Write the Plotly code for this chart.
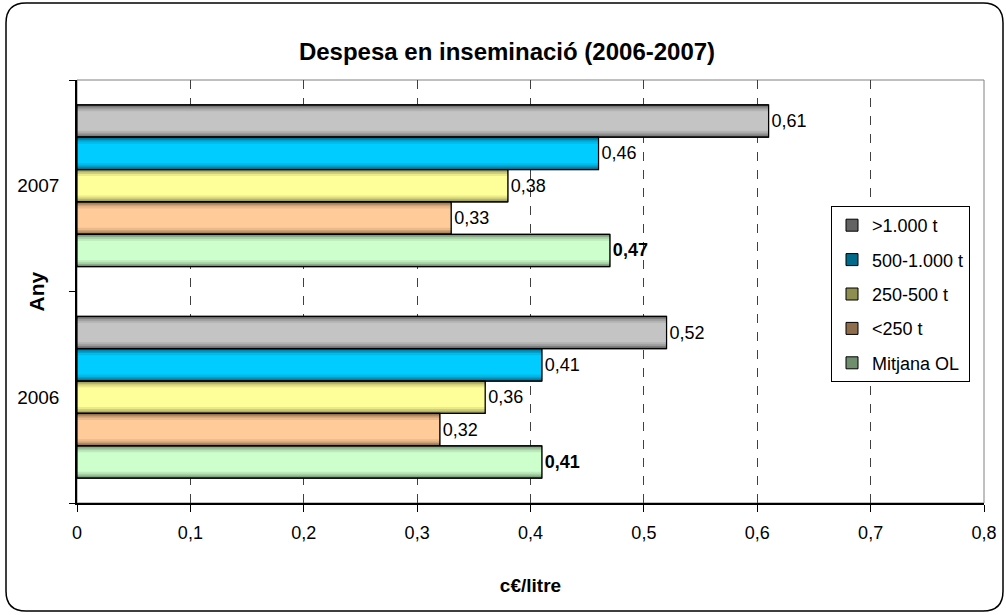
import plotly.graph_objects as go

# ---- data ----
years = ["2006", "2007"]
series_names = [">1.000 t", "500-1.000 t", "250-500 t", "<250 t", "Mitjana OL"]
val_gt1000 = [0.52, 0.61]
val_500_1000 = [0.41, 0.46]
val_250_500 = [0.36, 0.38]
val_lt250 = [0.32, 0.33]
val_mitjana = [0.41, 0.47]
x_ticks = [0, 0.1, 0.2, 0.3, 0.4, 0.5, 0.6, 0.7, 0.8]
x_ticklabels = ["0", "0,1", "0,2", "0,3", "0,4", "0,5", "0,6", "0,7", "0,8"]

values = [val_gt1000, val_500_1000, val_250_500, val_lt250, val_mitjana]
# (light centre colour, dark edge colour) per series
colors = [
    ("#C4C4C4", "#3A3A3A"),
    ("#00CCFF", "#004058"),
    ("#FFFF99", "#5E5E30"),
    ("#FFCC99", "#5E442C"),
    ("#CCFFCC", "#465E46"),
]

FONT = "Arial, Liberation Sans, sans-serif"
W, H = 1006, 615
ML, MR, MT, MB = 77, 22, 80, 112
PW, PH = W - ML - MR, H - MT - MB


def blend(c1, c2, t):
    a = [int(c1[i:i + 2], 16) for i in (1, 3, 5)]
    b = [int(c2[i:i + 2], 16) for i in (1, 3, 5)]
    return "#" + "".join(f"{round(a[i] + (b[i] - a[i]) * t):02x}" for i in range(3))


def label(v):
    return f"{v:.2f}".replace(".", ",")


bar_w = 0.153
n = len(series_names)
start = -bar_w * n / 2
# fake the cylinder gradient: stacked bars, narrower and lighter towards the centre
layers = [(1.0, 0.3), (0.92, 0.5), (0.83, 0.7), (0.73, 0.87), (0.6, 1.0)]

fig = go.Figure()
for i, name in enumerate(series_names):
    k = n - 1 - i  # first series sits at the top of each group
    light, dark = colors[i]
    centre = start + bar_w * (k + 0.5)
    for j, (frac, t) in enumerate(layers):
        w = bar_w * frac
        first = j == 0
        fig.add_trace(go.Bar(
            y=years,
            x=values[i],
            orientation="h",
            name=name,
            width=w,
            offset=centre - w / 2,
            marker=dict(color=blend(dark, light, t),
                        line=dict(color="black", width=1 if first else 0)),
            text=[label(v) for v in values[i]] if first else None,
            textposition="outside" if first else "none",
            textfont=dict(size=18, color="black", family=FONT,
                          weight="bold" if name == "Mitjana OL" else "normal"),
            constraintext="none",
            cliponaxis=False,
            showlegend=first,
            legendgroup=name,
            legendrank=i + 1,
            hoverinfo="skip" if not first else None,
        ))
    # outline on top of the gradient layers
    fig.add_trace(go.Bar(
        y=years,
        x=values[i],
        orientation="h",
        width=bar_w,
        offset=centre - bar_w / 2,
        marker=dict(color="rgba(0,0,0,0)", line=dict(color="black", width=1.2)),
        showlegend=False,
        legendgroup=name,
        hoverinfo="skip",
    ))


def px(x, y):
    return f"{(x - ML) / PW:.5f},{(H - MB - y) / PH:.5f}"


# rounded outer frame (pixel positions converted to paper coords)
x0, x1, y0, y1, r = 6, 1003, 3, 611, 20
frame = (
    f"M {px(x0 + r, y0)} L {px(x1 - r, y0)} Q {px(x1, y0)} {px(x1, y0 + r)} "
    f"L {px(x1, y1 - r)} Q {px(x1, y1)} {px(x1 - r, y1)} "
    f"L {px(x0 + r, y1)} Q {px(x0, y1)} {px(x0, y1 - r)} "
    f"L {px(x0, y0 + r)} Q {px(x0, y0)} {px(x0 + r, y0)} Z"
)

fig.update_layout(
    width=W,
    height=H,
    margin=dict(l=ML, r=MR, t=MT, b=MB, autoexpand=False),
    barmode="overlay",
    paper_bgcolor="white",
    plot_bgcolor="white",
    font=dict(family=FONT, size=18, color="black"),
    title=dict(
        text="<b>Despesa en inseminació (2006-2007)</b>",
        font=dict(size=24, family=FONT, color="black"),
        x=507 / W, xref="container", xanchor="center",
        y=1 - 52 / H, yref="container", yanchor="middle",
    ),
    xaxis=dict(
        range=[0, 0.8],
        tickvals=x_ticks,
        ticktext=x_ticklabels,
        showgrid=True,
        gridcolor="#404040",
        griddash="dash",
        gridwidth=1,
        zeroline=False,
        showline=True,
        linecolor="black",
        linewidth=1.5,
        ticks="outside",
        ticklen=7,
        tickcolor="black",
        tickfont=dict(size=18),
        ticklabelstandoff=6,
        title=dict(text="<b>c€/litre</b>", font=dict(size=19), standoff=36),
        fixedrange=True,
    ),
    yaxis=dict(
        type="category",
        categoryorder="array",
        categoryarray=years,
        range=[-0.5, 1.5],
        showgrid=False,
        zeroline=False,
        showline=True,
        linecolor="black",
        linewidth=1.5,
        ticks="outside",
        tickson="boundaries",
        ticklen=6,
        tickcolor="black",
        tickfont=dict(size=19),
        ticklabelstandoff=12,
        fixedrange=True,
    ),
    annotations=[
        dict(text="<b>Any</b>", xref="paper", yref="paper",
             x=(36 - ML) / PW, y=0.5, xanchor="center", yanchor="middle",
             textangle=-90, showarrow=False, font=dict(size=21)),
    ],
    legend=dict(
        x=(831 - ML) / PW, xanchor="left",
        y=(H - MB - 206) / PH, yanchor="top",
        bgcolor="white",
        bordercolor="black",
        borderwidth=1,
        font=dict(size=18),
        itemwidth=30,
        tracegroupgap=8,
    ),
    shapes=[
        dict(type="rect", xref="paper", yref="paper", x0=0, y0=0, x1=1, y1=1,
             line=dict(color="#808080", width=1), layer="below"),
        dict(type="path", xref="paper", yref="paper", path=frame,
             line=dict(color="black", width=1.5), layer="above"),
    ],
)

# the page body has a default 8px margin; drop it so the figure sits at (0,0)
fig.write_html("out.html", config={"displayModeBar": False},
               post_script="document.body.style.margin='0';")
